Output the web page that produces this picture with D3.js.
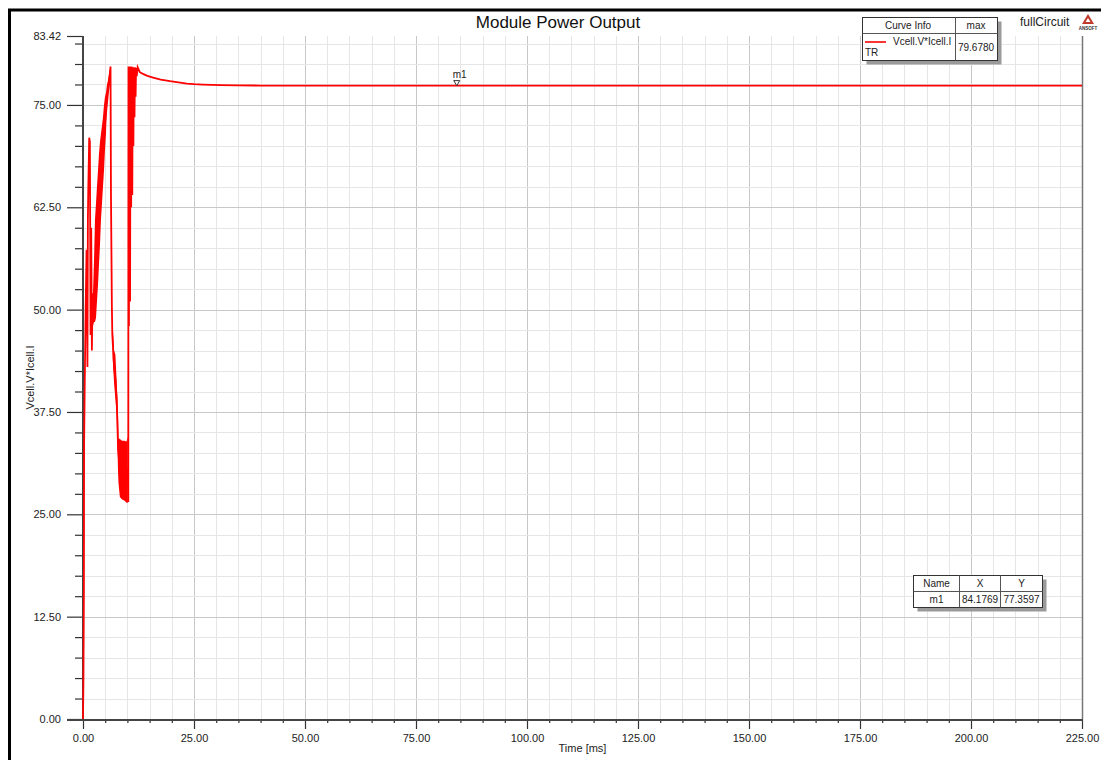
<!DOCTYPE html>
<html>
<head>
<meta charset="utf-8">
<script src="https://cdn.jsdelivr.net/npm/d3@7"></script>
<style>
  html, body { margin: 0; padding: 0; background: #fff; }
  svg { display: block; font-family: Arial, "Liberation Sans", sans-serif; }
</style>
</head>
<body>
<svg id="chart" width="1101" height="760"></svg>
<script>
// ---------- data ----------
const chartTitle = "Module Power Output";
const xAxisTitle = "Time [ms]";
const yAxisTitle = "Vcell.V*Icell.I";
const seriesName = "Vcell.V*Icell.I";
const seriesMax = "79.6780";

const xTicks = [0, 25, 50, 75, 100, 125, 150, 175, 200, 225];
const yTicks = [0, 12.5, 25, 37.5, 50, 62.5, 75, 83.42];
const xMinorStep = 5;
const yMinorStep = 2.5;

// main trace (time in ms, power)
const timeMs = [0, 0.1, 0.2, 0.25, 0.4, 0.6, 0.8, 1.0, 1.1, 1.2, 1.4, 1.55, 1.7, 1.85, 2.0, 2.15, 2.25,
  3.0, 4.0, 5.0, 6.2, 6.3, 6.4, 6.5, 6.6, 6.7,
  7.0, 7.3, 7.6, 7.9, 8.3, 9.0, 9.8, 10.1, 10.2, 10.25, 10.35, 10.45, 10.6, 10.7, 10.85, 10.95, 11.1, 11.2, 11.35, 11.45, 11.6, 11.7, 11.85, 11.95, 12.1, 12.3,
  12.8, 13.5, 14.5, 15.8, 17.5, 19.6, 21.5, 23.4, 25, 27, 29, 31, 35, 40, 50, 84.1769, 150, 225];
const power = [0, 5, 15.4, 33.7, 41.4, 50.2, 57.3, 43, 61, 65, 71, 70.5, 46.9, 60, 45, 52, 50,
  55, 66, 73, 79.68, 64, 57.3, 50.5, 47, 46,
  43, 41.5, 39, 33, 30.5, 30.5, 30.5, 30, 26.5, 79.68, 48, 79.68, 51, 79.68, 62.5, 79.68, 64, 79.6, 70, 79.6, 73.5, 79.6, 76, 79.5, 78.5, 79.6,
  79.0, 78.8, 78.55, 78.35, 78.1, 77.9, 77.75, 77.6, 77.53, 77.48, 77.45, 77.42, 77.39, 77.37, 77.36, 77.3597, 77.36, 77.36];

// dense oscillation envelopes
const band1Time = [2.25, 2.48, 2.7, 2.93, 3.15, 3.38, 3.6, 3.83, 4.05, 4.28, 4.5, 4.73, 4.95, 5.18, 5.4, 5.63, 5.86, 6.2];
const band1Lo   = [48, 48.5, 48.5, 49, 51, 53, 55.5, 58, 61, 63, 65, 67, 69.5, 71.5, 75, 76.5, 78, 79.5];
const band1Hi   = [52, 56, 61, 63, 65, 67, 69, 70.5, 71.5, 72.5, 73.5, 75, 76, 76.5, 77.5, 78, 78.8, 79.68];

const band2Time = [6.7, 7.0, 7.3, 7.6, 7.9, 8.0, 8.3, 8.8, 9.3, 9.8, 10.1];
const band2Lo   = [44, 41, 39, 37, 30, 28.8, 27.1, 26.8, 26.7, 26.4, 26.4];
const band2Hi   = [48, 45, 44.5, 41, 37, 34.3, 34.2, 34.0, 34.0, 33.9, 34.5];

const markerName = "m1";
const markerX = 84.1769;
const markerY = 77.3597;

// ---------- layout ----------
const svg = d3.select("#chart");
const pLeft = 83, pRight = 1082, pTop = 36, pBottom = 719;
const x = d3.scaleLinear().domain([0, 225]).range([pLeft, pRight]);
const y = d3.scaleLinear().domain([0, 83.42]).range([pBottom, pTop]);

// outer frame
svg.append("rect").attr("x", 9.5).attr("y", 10).attr("width", 1200).attr("height", 800)
  .attr("fill", "none").attr("stroke", "#000").attr("stroke-width", 3);

// grid
const xMinor = d3.range(0, 225 + 0.001, xMinorStep);
const yMinor = d3.range(0, 83.42, yMinorStep);
const grid = svg.append("g");
grid.selectAll(".vx").data(xMinor).enter().append("line")
  .attr("x1", d => Math.round(x(d)) + 0.5).attr("x2", d => Math.round(x(d)) + 0.5)
  .attr("y1", pTop).attr("y2", pBottom)
  .attr("stroke", d => (Math.abs(d % 25) < 1e-6 ? "#c8c8c8" : "#e6e6e6")).attr("stroke-width", 1);
grid.selectAll(".hy").data(yMinor).enter().append("line")
  .attr("y1", d => Math.round(y(d)) + 0.5).attr("y2", d => Math.round(y(d)) + 0.5)
  .attr("x1", pLeft).attr("x2", pRight)
  .attr("stroke", d => (Math.abs(d % 12.5) < 1e-6 ? "#c8c8c8" : "#e6e6e6")).attr("stroke-width", 1);
// right border
svg.append("line").attr("x1", pRight + 0.5).attr("x2", pRight + 0.5).attr("y1", pTop).attr("y2", pBottom)
  .attr("stroke", "#777").attr("stroke-width", 1.5);

// axes
const yAxisMajor = d3.axisLeft(y).tickValues(yTicks).tickSize(16).tickPadding(6)
  .tickFormat(d => d.toFixed(2));
const gy = svg.append("g").attr("transform", `translate(${pLeft},0)`).call(yAxisMajor);
const gyMinor = svg.append("g").attr("transform", `translate(${pLeft},0)`)
  .call(d3.axisLeft(y).tickValues(yMinor.filter(v => Math.abs(v % 12.5) > 1e-6)).tickSize(8).tickFormat(""));
const xAxisMajor = d3.axisBottom(x).tickValues(xTicks).tickSize(10).tickPadding(5)
  .tickFormat(d => d.toFixed(2));
const gx = svg.append("g").attr("transform", `translate(0,${pBottom})`).call(xAxisMajor);
const gxMinor = svg.append("g").attr("transform", `translate(0,${pBottom})`)
  .call(d3.axisBottom(x).tickValues(xMinor.filter(v => Math.abs(v % 25) > 1e-6)).tickSize(4).tickFormat(""));

[gy, gyMinor, gx, gxMinor].forEach(g => {
  g.selectAll("path").remove();
  g.selectAll("line").attr("stroke", "#333").attr("stroke-width", 1.2);
  g.selectAll("text").attr("fill", "#222").attr("font-size", 11)
    .attr("font-family", "Arial, 'Liberation Sans', sans-serif");
});
// axis lines
svg.append("line").attr("x1", pLeft).attr("x2", pLeft).attr("y1", pTop).attr("y2", pBottom + 1)
  .attr("stroke", "#444").attr("stroke-width", 2);
svg.append("line").attr("x1", pLeft - 16).attr("x2", pRight + 1).attr("y1", pBottom + 1).attr("y2", pBottom + 1)
  .attr("stroke", "#444").attr("stroke-width", 2);

// titles
svg.append("text").attr("x", 558).attr("y", 28).attr("text-anchor", "middle")
  .attr("font-size", 17).attr("fill", "#111").text(chartTitle);
svg.append("text").attr("x", (pLeft + pRight) / 2).attr("y", 752).attr("text-anchor", "middle")
  .attr("font-size", 11).attr("fill", "#222").text(xAxisTitle);
svg.append("text").attr("transform", `translate(34,${(pTop + pBottom) / 2}) rotate(-90)`)
  .attr("text-anchor", "middle").attr("font-size", 11).attr("fill", "#222").text(yAxisTitle);

// data
const plot = svg.append("g");
const area = d3.area().x(d => x(d[0])).y0(d => y(d[1])).y1(d => y(d[2]));
plot.append("path").datum(band1Time.map((t, i) => [t, band1Lo[i], band1Hi[i]]))
  .attr("d", area).attr("fill", "#ff0000");
plot.append("path").datum(band2Time.map((t, i) => [t, band2Lo[i], band2Hi[i]]))
  .attr("d", area).attr("fill", "#ff0000");
const line = d3.line().x(d => x(d[0])).y(d => y(d[1]));
plot.append("path").datum(timeMs.map((t, i) => [t, power[i]]))
  .attr("d", line).attr("fill", "none").attr("stroke", "#ff0000").attr("stroke-width", 1.8)
  .attr("stroke-linejoin", "miter");

// marker m1
const mx = x(markerX), my = y(markerY);
svg.append("path").attr("d", `M${mx - 3},${my - 5}L${mx + 3},${my - 5}L${mx},${my}Z`)
  .attr("fill", "#fff").attr("stroke", "#333").attr("stroke-width", 1);
svg.append("text").attr("x", mx - 4).attr("y", my - 8).attr("font-size", 10).attr("fill", "#222").text(markerName);

// legend box (curve info)
function table(x0, y0, colW, rowH, shadow) {
  const w = d3.sum(colW), h = d3.sum(rowH);
  svg.append("rect").attr("x", x0 + shadow).attr("y", y0 + shadow).attr("width", w).attr("height", h).attr("fill", "#9a9a9a");
  svg.append("rect").attr("x", x0).attr("y", y0).attr("width", w).attr("height", h)
    .attr("fill", "#fff").attr("stroke", "#333").attr("stroke-width", 1);
  let cx = x0;
  colW.slice(0, -1).forEach(c => { cx += c; svg.append("line").attr("x1", cx).attr("x2", cx).attr("y1", y0).attr("y2", y0 + h).attr("stroke", "#555"); });
  let cy = y0;
  rowH.slice(0, -1).forEach(r => { cy += r; svg.append("line").attr("x1", x0).attr("x2", x0 + w).attr("y1", cy).attr("y2", cy).attr("stroke", "#555"); });
}
table(862.5, 17.5, [93, 42], [16, 27], 4);
svg.append("text").attr("x", 908).attr("y", 29).attr("text-anchor", "middle").attr("font-size", 10).attr("fill", "#222").text("Curve Info");
svg.append("text").attr("x", 976).attr("y", 29).attr("text-anchor", "middle").attr("font-size", 10).attr("fill", "#222").text("max");
svg.append("line").attr("x1", 865).attr("x2", 886).attr("y1", 42).attr("y2", 42).attr("stroke", "#ff0000").attr("stroke-width", 1.6);
svg.append("text").attr("x", 893).attr("y", 45).attr("font-size", 10).attr("fill", "#222").text(seriesName);
svg.append("text").attr("x", 865).attr("y", 56).attr("font-size", 10).attr("fill", "#222").text("TR");
svg.append("text").attr("x", 976).attr("y", 51).attr("text-anchor", "middle").attr("font-size", 10).attr("fill", "#222").text(seriesMax);

// fullCircuit + logo
svg.append("text").attr("x", 1020).attr("y", 26).attr("font-size", 12).attr("fill", "#222").text("fullCircuit");
svg.append("path").attr("d", "M1088,14L1094,24L1082,24Z").attr("fill", "#c0392b");
svg.append("path").attr("d", "M1088,18L1090.5,22L1085.5,22Z").attr("fill", "#fff");
svg.append("text").attr("x", 1088).attr("y", 30).attr("text-anchor", "middle").attr("font-size", 4.5)
  .attr("font-weight", "bold").attr("fill", "#333").text("ANSOFT");

// marker table
table(913.5, 575.5, [46, 41, 42], [16, 16], 4);
const mt = [["Name", 936.5, 587], ["X", 980, 587], ["Y", 1021.5, 587],
            [markerName, 936.5, 603], [markerX.toFixed(4), 980, 603], [markerY.toFixed(4), 1021.5, 603]];
mt.forEach(r => svg.append("text").attr("x", r[1]).attr("y", r[2]).attr("text-anchor", "middle")
  .attr("font-size", 10).attr("fill", "#222").text(r[0]));
</script>
</body>
</html>
